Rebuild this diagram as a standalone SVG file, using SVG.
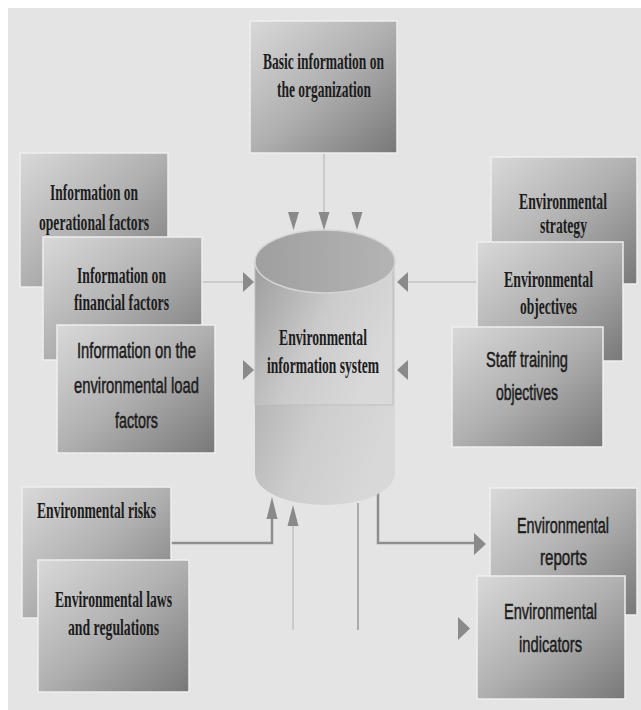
<svg xmlns="http://www.w3.org/2000/svg" width="641" height="710" viewBox="0 0 641 710">
<defs>
<linearGradient id="boxg" x1="0" y1="0" x2="1" y2="1">
<stop offset="0" stop-color="#d9d9d9"/>
<stop offset="0.5" stop-color="#b0b0b0"/>
<stop offset="1" stop-color="#787878"/>
</linearGradient>
<linearGradient id="cylBody" x1="0" y1="0" x2="1" y2="0.6">
<stop offset="0" stop-color="#a4a4a4"/>
<stop offset="0.6" stop-color="#cdcdcd"/>
<stop offset="1" stop-color="#d8d8d8"/>
</linearGradient>
<linearGradient id="cylRect" x1="0" y1="0" x2="1" y2="0.5">
<stop offset="0" stop-color="#9c9c9c"/>
<stop offset="0.55" stop-color="#cbcbcb"/>
<stop offset="1" stop-color="#d9d9d9"/>
</linearGradient>
<linearGradient id="cylTop" x1="0" y1="0" x2="1" y2="0">
<stop offset="0" stop-color="#9f9f9f"/>
<stop offset="1" stop-color="#b4b4b4"/>
</linearGradient>
<style>
.box{fill:url(#boxg);stroke:#eeeeee;stroke-width:1.5}
.sf{font-family:"Liberation Serif",serif;font-weight:bold;font-size:24px;fill:#1c1c1c;text-anchor:middle}
.ss{font-family:"Liberation Sans Narrow","Liberation Sans",sans-serif;font-size:22px;fill:#1c1c1c;stroke:#1c1c1c;stroke-width:0.5;text-anchor:middle}
.lt{fill:none;stroke:#cbcbcb;stroke-width:2}
.dk{fill:none;stroke:#8e8e8e;stroke-width:2.5}
.md{fill:none;stroke:#ababab;stroke-width:2}
.ah{fill:#8a8a8a}
</style>
</defs>
<rect x="0" y="0" width="641" height="710" fill="#ffffff"/>
<rect x="8" y="8" width="633" height="702" fill="#e4e4e4"/>

<g id="connectors">
<line class="lt" x1="324" y1="153" x2="324" y2="213"/>
<polygon class="ah" points="288,212 299,212 293.5,230"/>
<polygon class="ah" points="318.5,212 329.5,212 324,230"/>
<polygon class="ah" points="351.5,212 362.5,212 357,230"/>
<line class="lt" x1="202" y1="282" x2="244" y2="282"/>
<polygon class="ah" points="243,272 243,292 254,282"/>
<polygon class="ah" points="243,360 243,380 254,370"/>
<line class="lt" x1="407" y1="282" x2="477" y2="282"/>
<polygon class="ah" points="408,272 408,292 397,282"/>
<polygon class="ah" points="408,360 408,380 397,370"/>
<polyline class="dk" points="171,543 272,543 272,518"/>
<polygon class="ah" points="266.5,519 277.5,519 272,497"/>
<line class="lt" x1="293" y1="525" x2="293" y2="630"/>
<polygon class="ah" points="287.5,526 298.5,526 293,505"/>
<line class="md" x1="358" y1="503" x2="358" y2="630"/>
<polyline class="dk" points="378,490 378,543 476,543"/>
<polygon class="ah" points="474,533 474,555 486,544"/>
<polygon class="ah" points="458,617 458,640 470,628.5"/>
</g>

<g id="node-system">
<path d="M255,262 L255,473 A70,32 0 0 0 395,473 L395,262 Z" fill="url(#cylBody)"/>
<rect x="255" y="262" width="138" height="143" fill="url(#cylRect)" stroke="#bdbdbd" stroke-width="1"/>
<ellipse cx="325" cy="261.5" rx="70" ry="31.5" fill="url(#cylTop)" stroke="#d4d4d4" stroke-width="1.5"/>
<text class="sf" x="323" y="345" textLength="88" lengthAdjust="spacingAndGlyphs">Environmental</text>
<text class="sf" x="323" y="373" textLength="112" lengthAdjust="spacingAndGlyphs">information system</text>
</g>

<g id="node-basic">
<rect class="box" x="250" y="21" width="147" height="132"/>
<text class="sf" x="323.5" y="69" textLength="121" lengthAdjust="spacingAndGlyphs">Basic information on</text>
<text class="sf" x="324" y="97" textLength="94" lengthAdjust="spacingAndGlyphs">the organization</text>
</g>

<g id="node-operational">
<rect class="box" x="20" y="153" width="148" height="134"/>
<text class="sf" x="94" y="200" textLength="88" lengthAdjust="spacingAndGlyphs">Information on</text>
<text class="sf" x="94" y="230" textLength="110" lengthAdjust="spacingAndGlyphs">operational factors</text>
</g>

<g id="node-financial">
<rect class="box" x="43" y="237" width="159" height="123"/>
<text class="sf" x="121.5" y="283" textLength="89" lengthAdjust="spacingAndGlyphs">Information on</text>
<text class="sf" x="121.5" y="310" textLength="95" lengthAdjust="spacingAndGlyphs">financial factors</text>
</g>

<g id="node-load">
<rect class="box" x="57" y="325" width="158" height="128"/>
<text class="ss" x="136.5" y="358" textLength="119" lengthAdjust="spacingAndGlyphs">Information on the</text>
<text class="ss" x="136.5" y="393" textLength="125" lengthAdjust="spacingAndGlyphs">environmental load</text>
<text class="ss" x="136.5" y="428" textLength="43" lengthAdjust="spacingAndGlyphs">factors</text>
</g>

<g id="node-strategy">
<rect class="box" x="491" y="157" width="146" height="127"/>
<text class="sf" x="563" y="209" textLength="88" lengthAdjust="spacingAndGlyphs">Environmental</text>
<text class="sf" x="563.5" y="233" textLength="47" lengthAdjust="spacingAndGlyphs">strategy</text>
</g>

<g id="node-objectives">
<rect class="box" x="477" y="242" width="146" height="119"/>
<text class="sf" x="548.5" y="287" textLength="89" lengthAdjust="spacingAndGlyphs">Environmental</text>
<text class="sf" x="548.5" y="314" textLength="57" lengthAdjust="spacingAndGlyphs">objectives</text>
</g>

<g id="node-staff">
<rect class="box" x="452" y="327" width="151" height="120"/>
<text class="ss" x="527" y="367" textLength="82" lengthAdjust="spacingAndGlyphs">Staff training</text>
<text class="ss" x="527" y="400" textLength="62" lengthAdjust="spacingAndGlyphs">objectives</text>
</g>

<g id="node-risks">
<rect class="box" x="22" y="487" width="149" height="131"/>
<text class="sf" x="96.5" y="518" textLength="119" lengthAdjust="spacingAndGlyphs">Environmental risks</text>
</g>

<g id="node-laws">
<rect class="box" x="38" y="560" width="151" height="132"/>
<text class="sf" x="113.5" y="607" textLength="117" lengthAdjust="spacingAndGlyphs">Environmental laws</text>
<text class="sf" x="113.5" y="635" textLength="91" lengthAdjust="spacingAndGlyphs">and regulations</text>
</g>

<g id="node-reports">
<rect class="box" x="490" y="488" width="147" height="127"/>
<text class="ss" x="563" y="533" textLength="92" lengthAdjust="spacingAndGlyphs">Environmental</text>
<text class="ss" x="563.5" y="565" textLength="47" lengthAdjust="spacingAndGlyphs">reports</text>
</g>

<g id="node-indicators">
<rect class="box" x="477" y="576" width="148" height="123"/>
<text class="ss" x="550.5" y="619" textLength="93" lengthAdjust="spacingAndGlyphs">Environmental</text>
<text class="ss" x="550.5" y="652" textLength="63" lengthAdjust="spacingAndGlyphs">indicators</text>
</g>
</svg>
